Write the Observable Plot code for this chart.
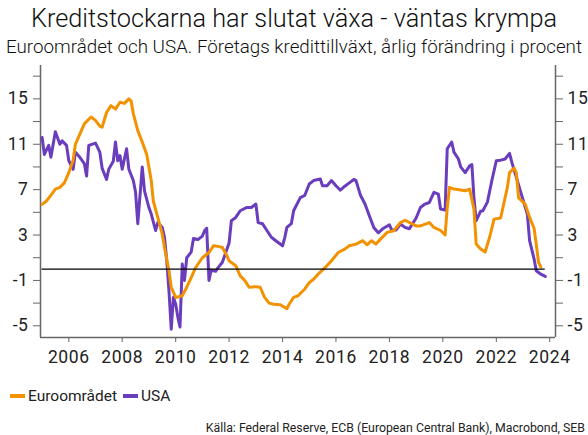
<!DOCTYPE html>
<html><head><meta charset="utf-8">
<script src="https://cdn.jsdelivr.net/npm/d3@7"></script>
<script src="https://cdn.jsdelivr.net/npm/@observablehq/plot@0.6"></script>
<style>
body{margin:0;background:#fff;font-family:Roboto,"Noto Sans",sans-serif;}
#wrap{position:relative;width:588px;height:435px;overflow:hidden;background:#fff;}
.title{position:absolute;left:0;width:588px;top:4px;text-align:center;font-size:25.3px;font-weight:300;color:#111;white-space:nowrap;}
.sub{position:absolute;left:0;width:588px;top:36px;text-align:center;font-size:18.8px;font-weight:300;color:#111;white-space:nowrap;}
#chart{position:absolute;left:0;top:58px;}
#chart svg text{letter-spacing:0.6px;}
.leg{position:absolute;top:387px;left:10px;font-size:15.5px;color:#222;display:flex;align-items:center;white-space:nowrap;}
.sw{display:inline-block;width:15px;height:4px;margin-right:3px;}
.cap{position:absolute;right:3px;top:421px;font-size:12.3px;color:#222;white-space:nowrap;}
</style></head>
<body><div id="wrap">
<div class="title">Kreditstockarna har slutat växa - väntas krympa</div>
<div class="sub">Euroområdet och USA. Företags kredittillväxt, årlig förändring i procent</div>
<div id="chart"></div>
<div class="leg"><span class="sw" style="background:#f39200"></span><span>Euroområdet</span><span class="sw" style="background:#6a3dbd;margin-left:6px"></span><span>USA</span></div>
<div class="cap">Källa: Federal Reserve, ECB (European Central Bank), Macrobond, SEB</div>
</div>
<script>
const seriesNames = ["Euroområdet", "USA"];
const seriesColors = ["#f39200", "#6a3dbd"];

const euroDates = ["2005-01","2005-03","2005-05","2005-07","2005-09","2005-11","2006-01","2006-03","2006-04","2006-06","2006-08","2006-10","2006-11","2007-01","2007-03","2007-04","2007-06","2007-08","2007-10","2007-12","2008-02","2008-04","2008-05","2008-06","2008-08","2008-10","2008-12","2009-02","2009-03","2009-05","2009-07","2009-08","2009-10","2009-11","2010-01","2010-04","2010-06","2010-08","2010-10","2011-01","2011-04","2011-06","2011-08","2011-10","2011-12","2012-01","2012-04","2012-06","2012-08","2012-10","2013-01","2013-03","2013-05","2013-07","2013-09","2013-12","2014-03","2014-04","2014-06","2014-08","2014-11","2015-01","2015-03","2015-05","2015-08","2015-11","2016-02","2016-05","2016-07","2016-10","2017-01","2017-03","2017-05","2017-07","2017-09","2017-12","2018-03","2018-06","2018-08","2018-11","2019-01","2019-03","2019-07","2019-09","2019-12","2020-02","2020-03","2020-04","2020-06","2020-09","2020-11","2021-01","2021-03","2021-04","2021-06","2021-08","2021-10","2021-12","2022-03","2022-04","2022-06","2022-07","2022-09","2022-10","2022-11","2023-02","2023-04","2023-06","2023-07","2023-08","2023-09"];
const euroValues = [5.7,6.0,6.5,7.05,7.2,7.6,8.5,9.6,11.0,11.9,12.8,13.2,13.4,13.1,12.6,12.5,13.8,14.4,14.1,14.7,14.6,15.0,14.8,13.7,12.2,11.2,10.1,7.8,6.0,4.55,3.1,1.9,-0.15,-1.6,-2.5,-2.35,-1.6,-0.75,0.14,1.0,1.46,2.05,2.0,1.9,1.2,0.73,0.3,-0.6,-1.0,-1.6,-1.55,-1.6,-2.5,-3.0,-3.1,-3.15,-3.5,-3.1,-2.5,-2.35,-1.75,-1.2,-0.9,-0.45,0.1,0.73,1.46,1.76,2.05,2.2,2.5,2.14,2.5,2.2,2.64,3.23,3.38,4.1,4.3,4.0,3.8,3.8,4.1,3.67,3.4,3.0,5.4,7.2,7.05,6.97,6.9,7.05,5.3,2.2,1.76,1.5,2.8,4.4,4.5,5.4,7.2,8.5,8.9,8.5,6.3,5.7,4.55,3.6,2.2,0.6,0.2];

const usaDates = ["2005-01","2005-02","2005-04","2005-05","2005-07","2005-09","2005-10","2005-12","2006-01","2006-03","2006-04","2006-06","2006-08","2006-09","2006-10","2007-01","2007-03","2007-04","2007-06","2007-07","2007-09","2007-10","2007-11","2007-12","2008-01","2008-03","2008-04","2008-06","2008-07","2008-08","2008-10","2008-11","2009-01","2009-02","2009-04","2009-05","2009-07","2009-08","2009-09","2009-10","2009-11","2009-12","2010-01","2010-02","2010-03","2010-04","2010-05","2010-06","2010-08","2010-09","2010-11","2011-01","2011-02","2011-03","2011-04","2011-05","2011-07","2011-08","2011-10","2012-01","2012-02","2012-04","2012-06","2012-09","2012-11","2013-01","2013-02","2013-04","2013-06","2013-08","2013-10","2014-01","2014-02","2014-03","2014-05","2014-06","2014-09","2014-11","2015-01","2015-03","2015-06","2015-07","2015-09","2015-11","2016-01","2016-03","2016-05","2016-07","2016-09","2016-10","2016-12","2017-02","2017-04","2017-06","2017-08","2017-10","2018-01","2018-02","2018-04","2018-06","2018-08","2018-10","2019-01","2019-03","2019-05","2019-07","2019-09","2019-11","2019-12","2020-02","2020-03","2020-05","2020-06","2020-08","2020-09","2020-11","2021-01","2021-02","2021-03","2021-04","2021-06","2021-07","2021-09","2021-11","2022-01","2022-03","2022-05","2022-07","2022-08","2022-10","2023-01","2023-03","2023-04","2023-06","2023-07","2023-09","2023-11"];
const usaValues = [11.6,10.1,10.9,9.85,12.1,11.0,11.3,10.9,9.55,8.8,10.3,9.85,9.3,8.2,10.9,11.1,10.3,8.9,7.9,8.8,9.5,11.2,9.55,10.0,8.8,10.6,8.8,7.8,6.8,4.0,9.0,6.9,5.4,4.85,3.4,4.1,3.67,2.8,0.73,-1.9,-5.3,-2.5,-3.1,-4.3,-5.1,0.44,-1.0,1.0,1.5,2.7,2.6,2.9,3.4,3.6,-1.0,-0.1,-0.2,0.1,0.6,2.3,4.26,4.55,5.14,5.43,5.43,5.73,4.1,4.0,3.4,2.8,2.5,2.05,2.8,3.67,4.0,5.14,6.3,6.5,7.5,7.8,7.94,7.35,7.35,7.8,7.35,6.95,7.3,7.6,7.9,7.8,6.5,5.73,4.7,3.67,3.2,3.55,3.9,3.44,3.44,3.97,3.67,3.55,4.5,5.43,5.73,5.87,6.76,6.6,5.3,5.2,10.6,11.2,10.3,9.7,9.0,8.5,9.1,9.2,6.3,4.26,5.1,5.14,5.9,7.8,9.55,9.6,9.7,10.2,9.4,8.1,6.1,4.85,2.5,0.9,-0.15,-0.45,-0.65];

const yearTicks = [2006,2008,2010,2012,2014,2016,2018,2020,2022,2024];
const yTicks = [-5,-3,-1,1,3,5,7,9,11,13,15,17];
const yTickLabels = [-5,-1,3,7,11,15];

const toDate = s => new Date(s + "-01T00:00:00Z");
const euro = euroDates.map((d,i)=>({date:toDate(d), value:euroValues[i]}));
const usa = usaDates.map((d,i)=>({date:toDate(d), value:usaValues[i]}));

const xDomain = [new Date(Date.UTC(2004,11,10)), new Date(Date.UTC(2024,2,20))];
const yDomain = [-6.03, 17.94];
const fmtY = d => yTickLabels.includes(d) ? String(d) : "";
const axisColor = "#666";
const textColor = "#222";

const chart = Plot.plot({
  width: 588, height: 320,
  marginLeft: 40, marginRight: 33, marginTop: 7, marginBottom: 41,
  style: {fontFamily: "Roboto, sans-serif", fontSize: "17px", color: textColor, background: "#fff"},
  x: {type: "utc", domain: xDomain},
  y: {domain: yDomain},
  marks: [
    Plot.axisX(yearTicks.map(y=>new Date(Date.UTC(y,0,1))), {tickFormat: d3.utcFormat("%Y"), tickSize: 5, tickPadding: 8, stroke: axisColor, fill: textColor, fontSize: 17.5, label: null}),
    Plot.axisY(yTicks, {anchor: "left", tickFormat: fmtY, tickSize: 7, tickPadding: 5, stroke: axisColor, fill: textColor, fontSize: 17.5, label: null}),
    Plot.axisY(yTicks, {anchor: "right", tickFormat: fmtY, tickSize: 7, tickPadding: 5, stroke: axisColor, fill: textColor, fontSize: 17.5, label: null}),
    Plot.ruleX([xDomain[0], xDomain[1]], {stroke: axisColor, strokeWidth: 1.5}),
    Plot.ruleY([yDomain[0]], {stroke: axisColor, strokeWidth: 1.5}),
    Plot.line(usa, {x: "date", y: "value", stroke: seriesColors[1], strokeWidth: 3, strokeLinejoin: "round"}),
    Plot.line(euro, {x: "date", y: "value", stroke: seriesColors[0], strokeWidth: 3, strokeLinejoin: "round"}),
    Plot.ruleY([0], {x1: euro[0].date, x2: usa[usa.length-1].date, stroke: "#000", strokeWidth: 1.3})
  ]
});
document.getElementById("chart").appendChild(chart);
</script>
</body></html>
